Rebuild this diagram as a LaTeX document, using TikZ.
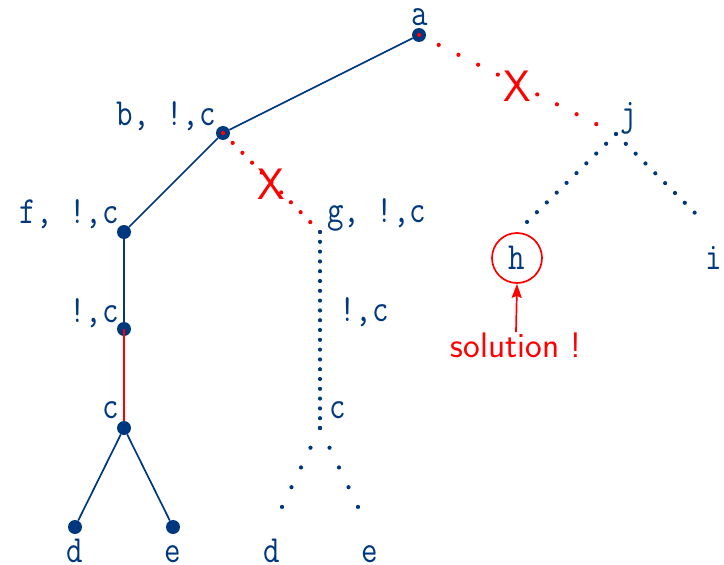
\documentclass[tikz,border=0pt]{standalone}
\usepackage{fontspec}
\usetikzlibrary{arrows.meta}
\definecolor{myblue}{RGB}{0,56,128}
\newcommand\tts[1]{\scalebox{1}[1.2]{#1}}
\tikzset{
 bdot/.style={circle, fill=myblue, inner sep=0pt, minimum size=14pt},
 lbl/.style={font=\fontsize{32}{36}\selectfont\ttfamily\addfontfeatures{FakeBold=0.7}, text=myblue, inner sep=0pt},
 edge/.style={draw=myblue, line width=1.7pt},
 redge/.style={draw=red, line width=1.7pt},
 rdots/.style={draw=red, line width=4.2pt, line cap=round, dash pattern=on 0pt off #1},
 bdots/.style={draw=myblue, line width=4.2pt, line cap=round, dash pattern=on 0pt off #1},
 xmark/.style={font=\fontsize{44}{48}\selectfont\sffamily, text=red, inner sep=0pt, yshift=-2pt},
 soltext/.style={font=\fontsize{35.5}{40}\selectfont\sffamily, text=red, inner sep=0pt},
}
\begin{document}
\begin{tikzpicture}[x=1pt,y=-1pt]
\useasboundingbox (0,0) rectangle (724,565);
% tree points
\node[bdot] (a) at (419,35) {};
\node[bdot] (b) at (223,133) {};
\node[bdot] (f) at (124,232) {};
\node[bdot] (n) at (124,329) {};
\node[bdot] (c) at (124,428) {};
\node[bdot] (d) at (75,527) {};
\node[bdot] (e) at (173,527) {};
\coordinate (jp) at (616,134);
\coordinate (gp) at (320,232);
\coordinate (gc) at (320,428);
\coordinate (gd) at (281,509);
\coordinate (ge) at (359,509);
\coordinate (hp) at (527,222);
\coordinate (ip) at (704,222);
% labels
\node[lbl, anchor=base] (la) at (420,25) {\tts{a}};
\node[lbl, anchor=base east] (lb) at (216,125) {\tts{b, !,c}};
\node[lbl, anchor=base east] (lf) at (119,223) {\tts{f, !,c}};
\node[lbl, anchor=base east] (ln) at (119,322) {\tts{!,c}};
\node[lbl, anchor=base east] (lc) at (119,418) {\tts{c}};
\node[lbl, anchor=base] (ld) at (75,562) {\tts{d}};
\node[lbl, anchor=base] (le) at (173,562) {\tts{e}};
\node[lbl, anchor=base west] (lg) at (327,222) {\tts{g, !,c}};
\node[lbl, anchor=base west] (lg2) at (339,321) {\tts{!,c}};
\node[lbl, anchor=base west] (lgc) at (329,418) {\tts{c}};
\node[lbl, anchor=base] (lgd) at (272,562) {\tts{d}};
\node[lbl, anchor=base] (lge) at (370,562) {\tts{e}};
\node[lbl, anchor=base] (lj) at (629,125) {\tts{j}};
\node[lbl, anchor=base] (li) at (714,269) {\tts{i}};
\node[lbl, circle, draw=red, line width=1.7pt, minimum size=50pt] (h) at (517,258) {\tts{h}};
\node[soltext, anchor=base] (sol) at (516,357) {solution !};
\draw[redge, -{Stealth[length=14pt,width=10pt,inset=2pt]}] (sol.north) -- (h.south);
% solid edges
\draw[edge] (a) -- (b);
\draw[edge] (b) -- (f);
\draw[edge] (f) -- (n);
\draw[redge] (n.center) -- (c.north);
\draw[edge] (c) -- (d);
\draw[edge] (c) -- (e);
% pruned branches
\draw[rdots=22.05pt] (a.center) -- node[xmark] (x1) {X} (jp);
\draw[rdots=13.86pt] (b.center) -- node[xmark] (x2) {X} (gp);
% unexplored branches
\draw[bdots=9.8pt] (gp) -- (gc);
\draw[bdots=21.9pt] (gc) -- (gd);
\draw[bdots=21.9pt] (gc) -- (ge);
\draw[bdots=13.9pt] (jp) -- (hp);
\draw[bdots=13.9pt] (jp) -- (ip);
\end{tikzpicture}
\end{document}
